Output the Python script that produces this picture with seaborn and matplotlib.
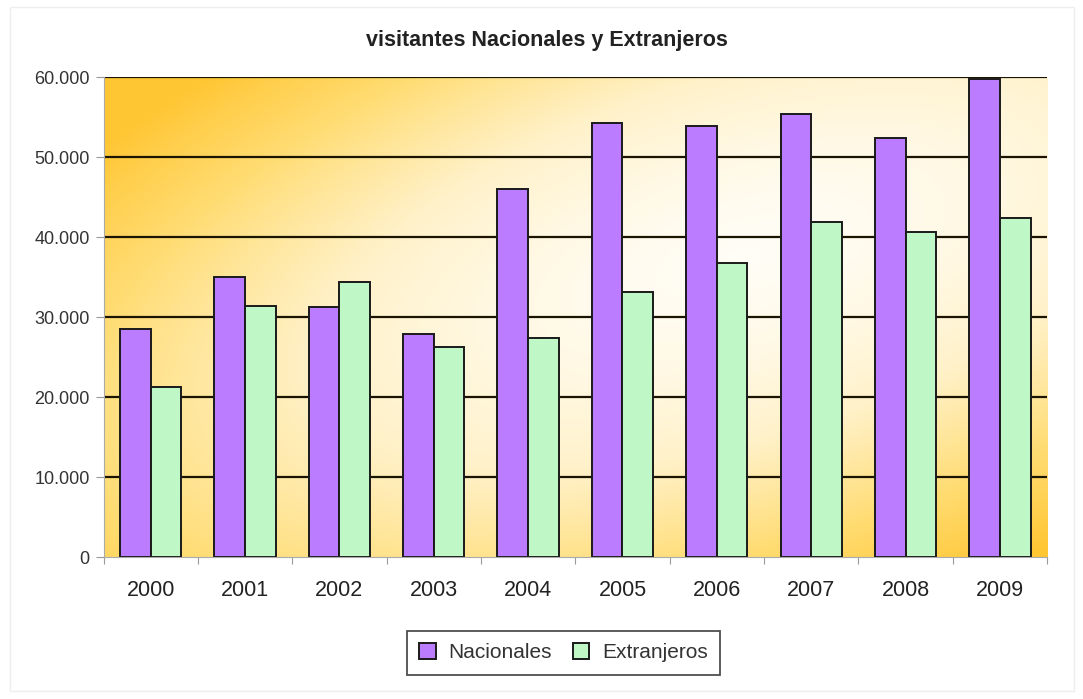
#!/usr/bin/env python3
import numpy as np
import pandas as pd
import matplotlib.pyplot as plt
import matplotlib.ticker as mticker
from matplotlib.colors import LinearSegmentedColormap
import seaborn as sns

years = ['2000', '2001', '2002', '2003', '2004', '2005', '2006', '2007', '2008', '2009']
nacionales = [28500, 35000, 31250, 27900, 46000, 54200, 53900, 55400, 52400, 59750]
extranjeros = [21300, 31400, 34400, 26250, 27400, 33200, 36750, 41900, 40700, 42400]
series = ['Nacionales', 'Extranjeros']
colors = ['#bb7cff', '#bff7c6']

df = pd.DataFrame({'year': years * 2,
                   'visitantes': nacionales + extranjeros,
                   'tipo': [series[0]] * len(years) + [series[1]] * len(years)})

sns.set_style('white')
plt.rcParams['font.family'] = ['Liberation Sans', 'DejaVu Sans']

fig = plt.figure(figsize=(10.83, 6.99), dpi=100)
ax = fig.add_axes([0.0956, 0.2027, 0.8712, 0.6871])

# background gradient: orange top-left and bottom-right, white across the middle
gx, gy = np.meshgrid(np.linspace(0, 1, 300), np.linspace(0, 1, 200))
u = gx - gy - 0.05
v = gx + gy - 1.3
grad = np.clip(np.sqrt((u / 0.95) ** 2 + (v / 1.6) ** 2), 0, 1) ** 1.5
cmap = LinearSegmentedColormap.from_list('bg', ['#fffdf6', '#fff1c8', '#ffdc72', '#ffc633'])
ax.imshow(grad, cmap=cmap, vmin=0, vmax=1, extent=[0, 1, 0, 1], origin='lower',
          transform=ax.transAxes, aspect='auto', zorder=0)

for y in range(10000, 70000, 10000):
    ax.axhline(y, color='#1a1400', lw=1.6, zorder=1)

sns.barplot(data=df, x='year', y='visitantes', hue='tipo', palette=colors,
            width=0.65, gap=0, edgecolor='#1a1a1a', linewidth=1.4,
            saturation=1, ax=ax, zorder=2)

ax.set_ylim(0, 60000)
ax.set_xlim(-0.5, len(years) - 0.5)
ax.yaxis.set_major_locator(mticker.MultipleLocator(10000))
ax.yaxis.set_major_formatter(mticker.FuncFormatter(lambda v, p: f'{int(v):,}'.replace(',', '.')))
ax.set_xlabel('')
ax.set_ylabel('')

# x ticks at category boundaries, labels centred
ax.set_xticks(np.arange(-0.5, len(years), 1.0), minor=False)
ax.set_xticklabels([])
ax.set_xticks(np.arange(len(years)), minor=True)
ax.set_xticklabels(years, minor=True)
ax.tick_params(axis='x', which='major', length=5, color='#999999', direction='out', bottom=True)
ax.tick_params(axis='x', which='minor', length=0, labelsize=15.5, labelcolor='#222222', pad=16)
ax.tick_params(axis='y', length=6, color='#999999', direction='out', left=True,
               labelsize=13, labelcolor='#333333', pad=4)

for side in ['top', 'right']:
    ax.spines[side].set_visible(False)
ax.spines['left'].set_color('#aaaaaa')
ax.spines['bottom'].set_color('#aaaaaa')

ax.set_title('visitantes Nacionales y Extranjeros', fontsize=15.5, fontweight='bold',
             color='#222222', pad=22, x=0.47)

ax.legend(loc='center', bbox_to_anchor=(0.4875, -0.199), ncol=2, frameon=True,
          fontsize=15, handlelength=0.8, handleheight=0.8, handletextpad=0.6,
          columnspacing=1.0, fancybox=False, edgecolor='#222222', borderpad=0.6)
leg = ax.get_legend()
leg.get_frame().set_linewidth(1.3)
for t in leg.get_texts():
    t.set_color('#333333')

fig.patches.append(plt.Rectangle((0.009, 0.012), 0.983, 0.978, transform=fig.transFigure,
                                 fill=False, edgecolor='#eeeeee', lw=1))

plt.savefig('out.png', dpi=100)
